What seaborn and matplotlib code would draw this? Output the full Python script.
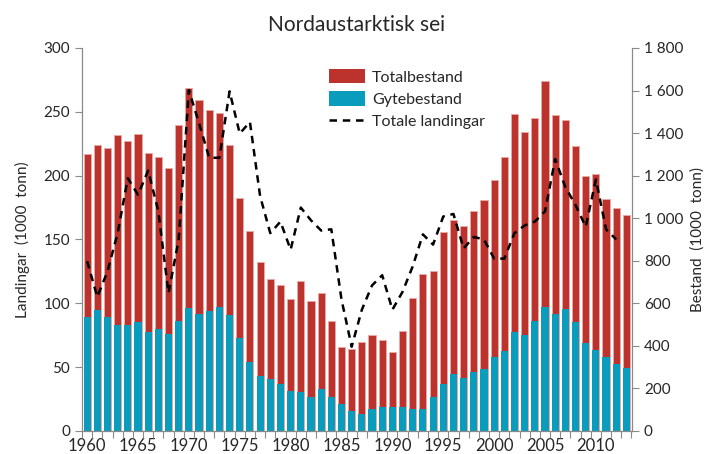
import matplotlib
matplotlib.use("Agg")
import matplotlib.pyplot as plt
import seaborn as sns
from matplotlib.patches import Patch
from matplotlib.lines import Line2D
from matplotlib.ticker import FuncFormatter, MultipleLocator

# data
years = list(range(1960, 2014))
totalbestand = [1303, 1342, 1330, 1392, 1363, 1397, 1308, 1289, 1236, 1438,
                1613, 1555, 1510, 1496, 1342, 1096, 939, 795, 713, 687,
                618, 707, 613, 648, 516, 397, 386, 416, 452, 426,
                370, 470, 624, 737, 753, 935, 993, 963, 1032, 1087,
                1179, 1289, 1490, 1407, 1471, 1643, 1485, 1461, 1338, 1200,
                1209, 1091, 1046, 1013]
gytebestand = [535, 569, 538, 497, 500, 511, 466, 480, 456, 517,
               580, 549, 564, 583, 546, 436, 323, 259, 245, 220,
               190, 185, 160, 196, 160, 125, 96, 82, 103, 114,
               114, 114, 102, 102, 160, 220, 270, 248, 279, 290,
               347, 376, 466, 452, 516, 583, 549, 574, 510, 412,
               381, 347, 314, 298]
landing_years = list(range(1960, 2013))
landingar = [133, 105, 125, 155, 198, 185, 204, 172, 108, 150,
             267, 241, 214, 214, 266, 233, 242, 184, 155, 164,
             142, 175, 165, 157, 158, 103, 66, 95, 114, 122,
             95, 109, 129, 154, 146, 168, 170, 143, 152, 150,
             135, 135, 155, 161, 164, 172, 213, 191, 177, 160,
             197, 158, 150]

red = "#bc322c"
blue = "#0a9cbd"
grey = "#8a8a8a"

sns.set_theme(style="ticks")
plt.rcParams["font.family"] = ["Lato", "DejaVu Sans"]

fig = plt.figure(figsize=(7.09, 4.54), dpi=100)
ax = fig.add_axes([0.1157, 0.0507, 0.7757, 0.8436])
ax2 = ax.twinx()

# bars on the right axis (Bestand)
sns.barplot(x=years, y=totalbestand, native_scale=True, width=0.7,
            color=red, saturation=1, edgecolor="#e9aaa6", linewidth=0.6, ax=ax2)
sns.barplot(x=years, y=gytebestand, native_scale=True, width=0.7,
            color=blue, saturation=1, linewidth=0, ax=ax2)

# landings on the left axis, drawn above the bars
sns.lineplot(x=landing_years, y=landingar, color="black", linewidth=1.8,
             dashes=False, ax=ax)
ax.lines[0].set_dashes((3, 2.3))
ax.set_zorder(ax2.get_zorder() + 1)
ax.patch.set_visible(False)

ax.set_xlim(1959.55, 2013.55)
ax.set_ylim(0, 300)
ax2.set_ylim(0, 1800)
ax.yaxis.set_major_locator(MultipleLocator(50))
ax2.yaxis.set_major_locator(MultipleLocator(200))
ax2.yaxis.set_major_formatter(FuncFormatter(lambda v, p: f"{int(v):,}".replace(",", " ")))

ax.set_xticks(range(1960, 2014, 5))
ax.set_xticks([y + 0.5 for y in range(1959, 2014)], minor=True)
ax.set_xticklabels([str(y) for y in range(1960, 2014, 5)])
ax.tick_params(axis="x", which="major", length=0, pad=5, labelsize=12)
ax.tick_params(axis="x", which="minor", length=5, color=grey, width=0.8)

for a in (ax, ax2):
    a.tick_params(axis="y", length=5, color=grey, width=0.8, labelsize=11)
    a.set_xlabel("")
    for s in a.spines.values():
        s.set_color(grey)
        s.set_linewidth(0.9)
    a.spines["top"].set_visible(False)
ax.spines["right"].set_visible(False)
ax2.spines["left"].set_visible(False)
ax2.spines["bottom"].set_visible(False)

ax.set_ylabel("Landingar  (1000  tonn)", fontsize=11, labelpad=10)
ax2.set_ylabel("Bestand  (1000  tonn)", fontsize=11, labelpad=5)
fig.suptitle("Nordaustarktisk sei", x=0.503, y=0.968, fontsize=15)

handles = [Patch(facecolor=red, edgecolor="none"),
           Patch(facecolor=blue, edgecolor="none"),
           Line2D([], [], color="black", linewidth=1.8, dashes=(3, 2.3))]
fig.legend(handles, ["Totalbestand", "Gytebestand", "Totale landingar"],
           loc="upper left", bbox_to_anchor=(0.455, 0.862), frameon=False,
           fontsize=11.5, handlelength=2.25, handleheight=1.0,
           labelspacing=0.42, handletextpad=0.45, borderaxespad=0)

fig.savefig("out.png", dpi=100)
